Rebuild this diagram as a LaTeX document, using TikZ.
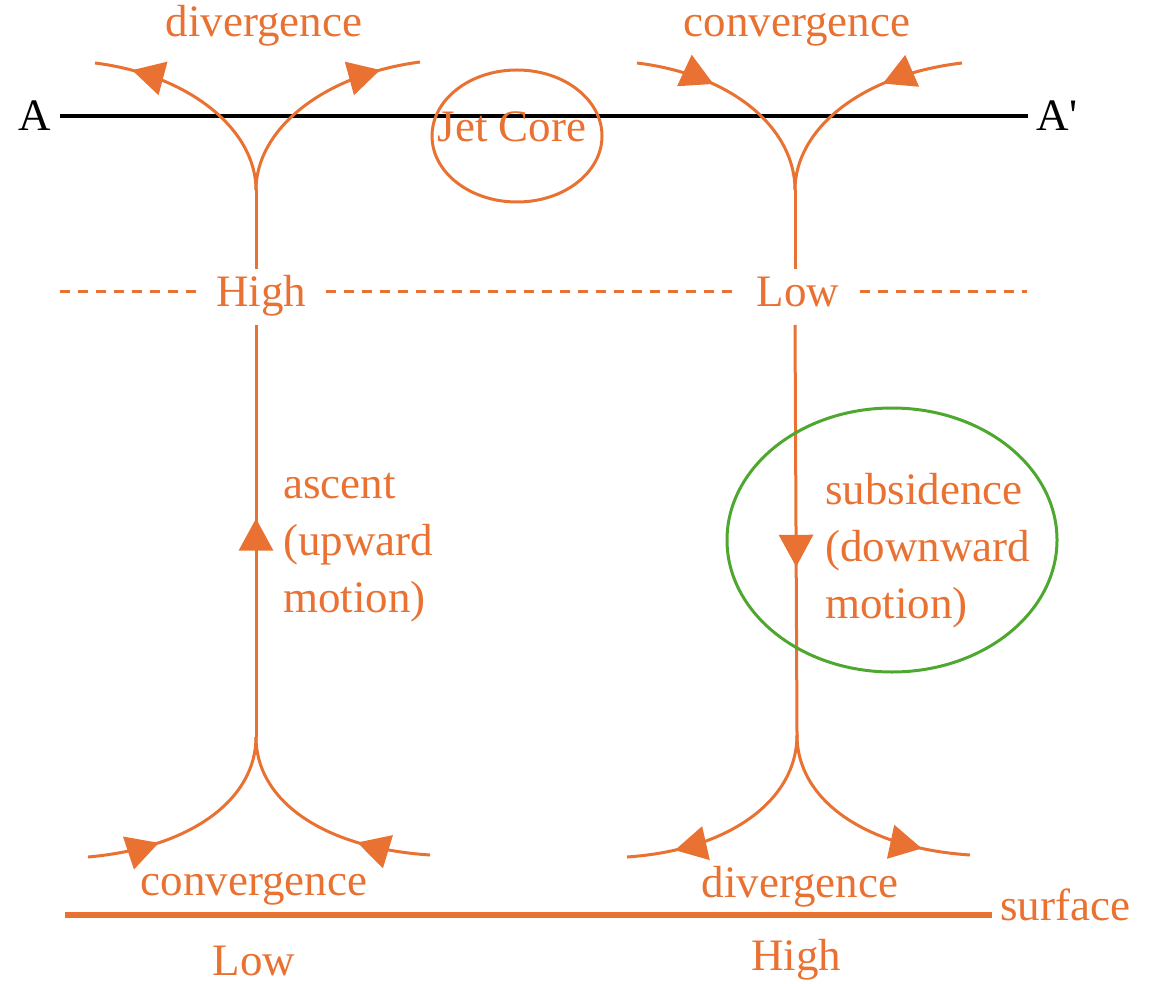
\documentclass[tikz,border=0pt]{standalone}
\usepackage{fontspec}
\setmainfont{Liberation Serif}
\newfontfamily\plainserif{Liberation Serif}
\usetikzlibrary{arrows.meta,decorations.markings}

\definecolor{flowOrange}{RGB}{233,113,50}
\definecolor{ringGreen}{RGB}{78,167,46}

\begin{document}
\begin{tikzpicture}[
    x=0.5pt, y=-0.5pt,
    font=\fontsize{22.5}{28.5}\selectfont,
    flow/.style={draw=flowOrange, line width=1.5pt},
    tipat/.style={
      postaction={decorate},
      decoration={markings,
        mark=at position #1 with {\arrow{Triangle[length=16pt,width=17pt]}}}
    },
    word/.style={text=flowOrange, inner sep=0pt, anchor=base},
    level/.style={word, inner xsep=10pt, inner ysep=4pt,
      text height=15pt, text depth=4.7pt},
    levelline/.style={draw=flowOrange, line width=1.5pt,
      dash pattern=on 5pt off 4pt},
    axisline/.style={draw=black, line width=2pt},
    surfline/.style={draw=flowOrange, line width=3pt},
    ring/.style={line width=1.5pt}
  ]
    \useasboundingbox (0,0) rectangle (1159,983);

    % section line and jet core
    \node[anchor=base, inner xsep=4pt] (Aleft) at (35,131) {A};
    \node[anchor=base, inner xsep=4pt] (Aright) at (1057,131) {A{\plainserif '}};
    \draw[axisline] (Aleft) -- (Aright);
    \node[word] (jetTxt) at (512,142) {Jet Core};
    \draw[flow] (517,136) ellipse [x radius=85, y radius=66];

    % labels
    \node[word] (divTop) at (264,37) {divergence};
    \node[word] (convTop) at (797,37) {convergence};
    \node[word] (convBot) at (254,895) {convergence};
    \node[word] (divBot) at (800,897) {divergence};
    \node[word] (lowSurf) at (254,975) {Low};
    \node[word] (highSurf) at (796,970) {High};
    \node[word, anchor=base west, inner xsep=4pt] (surfLbl) at (992,920) {surface};
    \node[level] (highLvl) at (261,307) {High};
    \node[level] (lowLvl) at (798,307) {Low};
    \node[word, anchor=base west, align=left] (ascent) at (283,612)
      {ascent\\(upward\\motion)};
    \node[word, anchor=base west, align=left] (subside) at (825,618)
      {subsidence\\(downward\\motion)};

    % junctions and free ends
    \coordinate (jTL) at (256,190);
    \coordinate (jBL) at (256,737);
    \coordinate (jTR) at (795,190);
    \coordinate (jBR) at (797,735);
    \coordinate (tlEndL) at (95,63);
    \coordinate (tlEndR) at (420,62);
    \coordinate (trEndL) at (637,63);
    \coordinate (trEndR) at (962,63);
    \coordinate (blEndL) at (88,857);
    \coordinate (blEndR) at (430,855);
    \coordinate (brEndL) at (627,857);
    \coordinate (brEndR) at (970,855);
    \coordinate (dashL) at (60,292);
    \coordinate (dashR) at (1027,292);
    \coordinate (surfStart) at (65,915);

    % 700 hPa level
    \draw[levelline] (dashL) -- (dashL -| highLvl.west);
    \draw[levelline] (highLvl.east |- dashL) -- (lowLvl.west |- dashL);
    \draw[levelline] (lowLvl.east |- dashL) -- (dashR);

    % rising column
    \draw[flow] (jTL) -- (jTL |- highLvl.north);
    \draw[flow, tipat=0.53] (jBL) -- (jBL |- highLvl.south);
    \draw[flow, tipat=0.83] (jTL) .. controls (256,130) and (190,75) .. (tlEndL);
    \draw[flow, tipat=0.82] (jTL) .. controls (256,130) and (322,75) .. (tlEndR);
    \draw[flow, tipat=0.32] (blEndL) .. controls (190,848) and (256,800) .. (jBL);
    \draw[flow, tipat=0.32] (blEndR) .. controls (322,848) and (256,800) .. (jBL);

    % sinking column
    \draw[flow] (jTR) -- (jTR |- lowLvl.north);
    \draw[flow, tipat=0.59] (jTR |- lowLvl.south) -- (jBR);
    \draw[flow, tipat=0.36] (trEndL) .. controls (735,75) and (795,130) .. (jTR);
    \draw[flow, tipat=0.36] (trEndR) .. controls (860,75) and (795,130) .. (jTR);
    \draw[flow, tipat=0.79] (jBR) .. controls (797,800) and (730,850) .. (brEndL);
    \draw[flow, tipat=0.79] (jBR) .. controls (797,800) and (865,848) .. (brEndR);

    \draw[surfline] (surfStart) -- (surfStart -| surfLbl.west);
    \draw[ring, draw=ringGreen] (892,540) ellipse [x radius=165, y radius=132];
\end{tikzpicture}
\end{document}
